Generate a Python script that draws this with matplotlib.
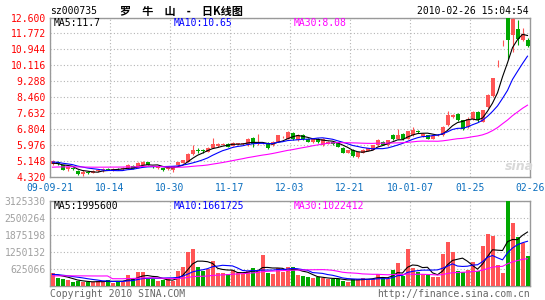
import numpy as np
import pandas as pd
import matplotlib
matplotlib.use('Agg')
import matplotlib.pyplot as plt

plt.rcParams['font.family'] = ['DejaVu Sans Mono', 'Noto Sans CJK SC']

# daily K data, 2009-09-21 .. 2010-02-26
opens = [4.98, 5.12, 4.93, 4.72, 4.78, 4.65, 4.50, 4.58, 4.55, 4.62,
         4.66, 4.74, 4.70, 4.74, 4.74, 4.78, 4.89, 4.79, 4.95, 5.08,
         4.86, 4.80, 4.78, 4.72, 4.68, 4.96, 5.06, 5.12, 5.50, 5.72,
         5.70, 5.62, 5.85, 5.92, 6.00, 6.05, 5.95, 6.02, 6.03, 5.97,
         6.37, 6.03, 6.06, 6.09, 5.97, 6.14, 6.38, 6.31, 6.63, 6.23,
         6.50, 6.31, 6.14, 6.28, 5.97, 6.05, 6.14, 6.14, 5.83, 5.57,
         5.74, 5.36, 5.57, 5.67, 5.74, 5.97, 6.14, 5.97, 6.49, 6.31,
         6.53, 6.31, 6.49, 6.68, 6.44, 6.49, 6.31, 6.48, 6.49, 7.00,
         7.46, 7.58, 7.27, 6.92, 7.35, 7.70, 7.20, 7.95, 8.50, 10.38,
         11.42, 12.55, 11.67, 12.02, 11.45, 11.42]
highs = [5.22, 5.16, 4.96, 4.85, 4.83, 4.70, 4.66, 4.62, 4.66, 4.70,
         4.80, 4.80, 4.78, 4.80, 4.82, 4.98, 4.93, 5.08, 5.13, 5.12,
         4.90, 4.86, 4.80, 4.84, 4.90, 5.12, 5.22, 5.56, 5.97, 5.82,
         5.78, 5.86, 6.37, 6.06, 6.08, 6.08, 6.14, 6.08, 6.10, 6.34,
         6.42, 6.57, 6.12, 6.12, 6.18, 6.52, 6.45, 6.70, 6.68, 6.53,
         6.53, 6.34, 6.32, 6.36, 6.32, 6.18, 6.18, 6.16, 5.86, 5.74,
         5.78, 5.64, 5.78, 5.83, 6.00, 6.28, 6.18, 6.26, 6.57, 6.83,
         6.58, 6.72, 6.92, 6.74, 6.60, 6.52, 6.46, 6.54, 6.95, 7.75,
         7.60, 7.62, 7.30, 7.45, 7.75, 7.76, 7.82, 8.62, 9.45, 10.39,
         11.42, 12.60, 12.58, 12.46, 12.03, 11.56]
lows = [4.95, 4.95, 4.68, 4.62, 4.70, 4.40, 4.38, 4.50, 4.52, 4.56,
        4.60, 4.66, 4.63, 4.66, 4.70, 4.76, 4.74, 4.77, 4.92, 4.92,
        4.78, 4.74, 4.64, 4.68, 4.58, 4.94, 5.03, 5.10, 5.46, 5.55,
        5.58, 5.60, 5.82, 5.88, 5.96, 5.86, 5.92, 5.98, 6.00, 5.95,
        5.90, 6.00, 6.02, 5.78, 5.95, 6.12, 6.34, 6.28, 6.26, 6.20,
        6.26, 6.12, 6.10, 6.08, 5.95, 6.02, 6.00, 5.86, 5.55, 5.55,
        5.38, 5.30, 5.55, 5.65, 5.72, 5.95, 5.98, 5.95, 6.25, 6.29,
        6.26, 6.28, 6.46, 6.58, 6.42, 6.30, 6.28, 6.44, 6.46, 6.98,
        7.40, 7.25, 6.75, 6.85, 7.30, 7.20, 7.15, 7.90, 8.45, 10.03,
        11.12, 10.47, 10.82, 11.16, 11.40, 11.07]
closes = [5.15, 4.97, 4.70, 4.82, 4.74, 4.45, 4.57, 4.54, 4.63, 4.66,
          4.75, 4.70, 4.73, 4.72, 4.78, 4.92, 4.76, 5.05, 5.10, 4.95,
          4.82, 4.82, 4.67, 4.80, 4.87, 5.10, 5.19, 5.53, 5.74, 5.68,
          5.66, 5.83, 6.05, 6.02, 6.04, 5.88, 6.10, 6.06, 6.07, 6.31,
          6.05, 6.08, 6.07, 5.80, 6.15, 6.49, 6.42, 6.66, 6.30, 6.50,
          6.30, 6.14, 6.30, 6.14, 6.30, 6.14, 6.02, 5.88, 5.57, 5.70,
          5.40, 5.62, 5.74, 5.80, 5.97, 6.23, 6.00, 6.23, 6.28, 6.49,
          6.28, 6.69, 6.75, 6.66, 6.57, 6.31, 6.44, 6.50, 6.92, 7.52,
          7.52, 7.27, 6.80, 7.35, 7.70, 7.27, 7.78, 8.58, 9.44, 10.38,
          11.42, 11.42, 12.53, 11.50, 11.76, 11.12]
volumes = [478000, 305000, 268000, 232000, 158000, 195000, 158000, 158000, 158000, 182000,
           195000, 232000, 134000, 195000, 170000, 415000, 257000, 526000, 526000, 257000,
           257000, 195000, 220000, 257000, 200000, 562000, 721000, 1250000, 1370000, 721000,
           562000, 620000, 941000, 478000, 500000, 452000, 599000, 500000, 452000, 562000,
           686000, 599000, 1150000, 478000, 452000, 686000, 540000, 721000, 721000, 415000,
           390000, 353000, 294000, 331000, 294000, 268000, 268000, 268000, 206000, 169000,
           268000, 268000, 316000, 268000, 268000, 452000, 316000, 268000, 599000, 868000,
           390000, 1370000, 690000, 520000, 470000, 450000, 350000, 330000, 1190000, 1640000,
           1250000, 560000, 540000, 610000, 880000, 560000, 1500000, 1920000, 1860000, 800000,
           500000, 3125330, 2320000, 1830000, 1600000, 1100000]

# days before the window (only feed the moving averages)
pre_close = [4.62, 4.60, 4.65, 4.70, 4.68, 4.66, 4.72, 4.75, 4.70, 4.68,
             4.64, 4.66, 4.70, 4.73, 4.76, 4.72, 4.70, 4.74, 4.71, 4.78,
             5.05, 5.20, 5.18, 5.12, 5.20, 5.08, 5.02, 4.98, 4.97]
pre_vol = [210000, 185000, 230000, 195000, 205000, 178000, 220000, 190000, 215000, 200000,
           172000, 3200000, 196000, 210000, 185000, 224000, 190000, 205000, 198000, 192000,
           420000, 465000, 430000, 452000, 433000, 410000, 468000, 425000, 417000]

date_labels = ['09-09-21', '10-14', '10-30', '11-17', '12-03', '12-21', '10-01-07', '01-25', '02-26']
price_ticks = [4.320, 5.148, 5.976, 6.804, 7.632, 8.460, 9.288, 10.116, 10.944, 11.772, 12.600]
vol_ticks = [625066, 1250132, 1875198, 2500264, 3125330]

RED = '#FF5555'
GREEN = '#00A800'
GRID = '#B4B4B4'
EDGE = '#999999'

n = len(closes)
x = np.arange(n) + 0.5
c_all = pd.Series(pre_close + closes)
v_all = pd.Series(pre_vol + volumes)
ma = {k: c_all.rolling(k).mean().values[-n:] for k in (5, 10, 30)}
vma = {k: v_all.rolling(k).mean().values[-n:] for k in (5, 10, 30)}

W, H = 545, 300
fig = plt.figure(figsize=(W / 100, H / 100), dpi=100)
ax1 = fig.add_axes([50 / W, (H - 177) / H, 480 / W, 159.5 / H])
ax2 = fig.add_axes([50 / W, (H - 286.3) / H, 480 / W, 85 / H])

def px(xp, yp):
    return xp / W, 1 - yp / H

# candles
up = np.array(closes) >= np.array(opens)
cols = [RED if u else GREEN for u in up]
ax1.vlines(x, lows, highs, colors=cols, lw=0.8, zorder=3)
body = np.maximum(np.abs(np.array(closes) - np.array(opens)), 0.03)
ax1.bar(x, body, bottom=np.minimum(opens, closes), width=0.8, color=cols, lw=0, zorder=4)
ax1.plot(x, ma[5], color='black', lw=0.8, zorder=5)
ax1.plot(x, ma[10], color='#0000FF', lw=0.8, zorder=5)
ax1.plot(x, ma[30], color='#FF00FF', lw=0.8, zorder=5)

# volume
ax2.bar(x, volumes, width=0.8, color=cols, lw=0, zorder=3)
ax2.plot(x, vma[5], color='black', lw=0.8, zorder=5)
ax2.plot(x, vma[10], color='#0000FF', lw=0.8, zorder=5)
ax2.plot(x, vma[30], color='#FF00FF', lw=0.8, zorder=5)

ax1.set_xlim(0, n)
ax2.set_xlim(0, n)
ax1.set_ylim(price_ticks[0], price_ticks[-1])
ax2.set_ylim(0, vol_ticks[-1])

ax1.set_yticks(price_ticks)
ax1.set_yticklabels(['%.3f' % t for t in price_ticks])
ax1.set_xticks(np.arange(0, n + 1, 12))
ax1.set_xticklabels(date_labels)
ax2.set_yticks(vol_ticks)
ax2.set_yticklabels([str(t) for t in vol_ticks])
ax2.set_xticks(np.arange(0, n + 1, 12))
ax2.set_xticklabels([])

ax1.tick_params(axis='y', length=0, pad=3, labelsize=7, labelcolor='#FF0000')
ax1.tick_params(axis='x', length=0, pad=4, labelsize=7, labelcolor='#0A6EBE')
ax2.tick_params(axis='y', length=0, pad=3, labelsize=7, labelcolor='#A0A0A0')
ax2.tick_params(axis='x', length=0)

for ax in (ax1, ax2):
    ax.grid(True, color=GRID, lw=0.8, linestyle=(0, (1, 2)), zorder=0)
    for s in ax.spines.values():
        s.set_color(EDGE)
        s.set_linewidth(1)

# header
fig.text(*px(50, 11), 'sz000735', fontsize=7, va='center', ha='left')
fig.text(*px(120, 11), '罗　牛　山　-　日K线图', fontsize=8, va='center', ha='left',
         family=['Noto Sans CJK SC'], fontweight='bold')
fig.text(*px(529, 11), '2010-02-26 15:04:54', fontsize=7, va='center', ha='right')

# MA legends
fig.text(*px(54, 23.5), 'MA5:11.7', fontsize=7, va='center', color='black')
fig.text(*px(174, 23.5), 'MA10:10.65', fontsize=7, va='center', color='#0000FF')
fig.text(*px(294, 23.5), 'MA30:8.08', fontsize=7, va='center', color='#FF00FF')
fig.text(*px(54, 206), 'MA5:1995600', fontsize=7, va='center', color='black')
fig.text(*px(174, 206), 'MA10:1661725', fontsize=7, va='center', color='#0000FF')
fig.text(*px(294, 206), 'MA30:1022412', fontsize=7, va='center', color='#FF00FF')

fig.text(*px(519, 166), 'sina', fontsize=9, va='center', ha='center', color='#D8D8D8',
         fontweight='bold', style='italic', family=['DejaVu Sans'])

# footer
fig.text(*px(50, 294), 'Copyright 2010 SINA.COM', fontsize=7, va='center', color='#666666')
fig.text(*px(530, 294), 'http://finance.sina.com.cn', fontsize=7, va='center', ha='right', color='#666666')

fig.savefig('out.png', dpi=100, facecolor='white')
